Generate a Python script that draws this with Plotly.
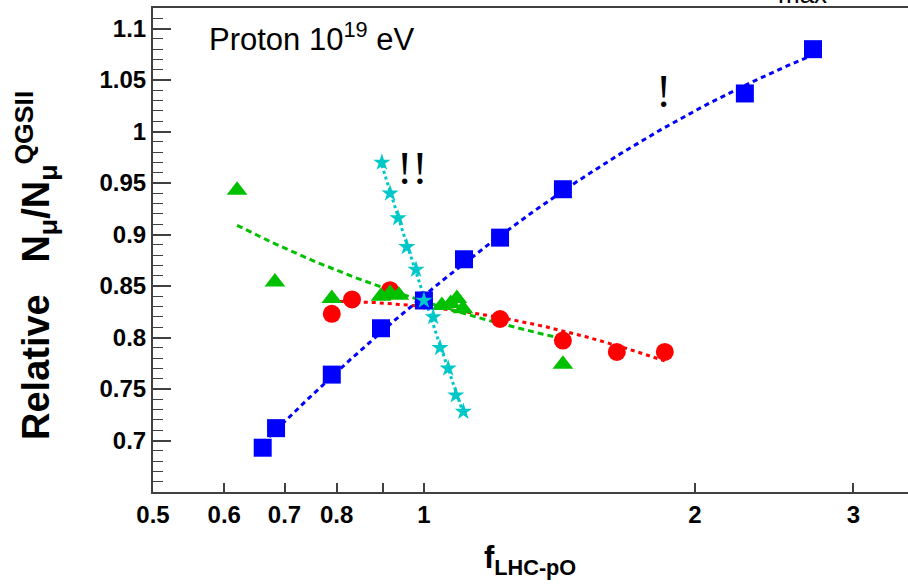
import numpy as np
import plotly.graph_objects as go

# Relative muon number vs. LHC-pO cross-section scaling factor (proton, 1e19 eV)
blue_f = [0.662, 0.685, 0.790, 0.896, 1.0, 1.108, 1.215, 1.427, 2.273, 2.706]
blue_y = [0.693, 0.712, 0.764, 0.809, 0.836, 0.876, 0.897, 0.944, 1.037, 1.080]

red_f = [0.790, 0.832, 0.917, 1.0, 1.215, 1.427, 1.638, 1.852]
red_y = [0.823, 0.837, 0.846, 0.836, 0.818, 0.797, 0.786, 0.786]

green_f = [0.620, 0.683, 0.790, 0.896, 0.917, 0.938, 1.0, 1.047, 1.071, 1.088, 1.105, 1.427]
green_y = [0.943, 0.854, 0.838, 0.840, 0.843, 0.841, 0.835, 0.831, 0.833, 0.838, 0.828, 0.774]

cyan_f = [0.898, 0.917, 0.936, 0.957, 0.980, 1.0, 1.024, 1.042, 1.064, 1.085, 1.106]
cyan_y = [0.970, 0.940, 0.916, 0.888, 0.866, 0.836, 0.820, 0.790, 0.770, 0.744, 0.728]

x_tick_vals = [0.5, 0.6, 0.7, 0.8, 0.9, 1, 2, 3]
x_tick_text = ["0.5", "0.6", "0.7", "0.8", "", "1", "2", "3"]
y_tick_vals = [0.7, 0.75, 0.8, 0.85, 0.9, 0.95, 1.0, 1.05, 1.1]
y_tick_text = ["0.7", "0.75", "0.8", "0.85", "0.9", "0.95", "1", "1.05", "1.1"]

X_RANGE = [np.log10(0.5), np.log10(0.5) + 755 / 900]
Y_RANGE = [0.65, 1.12]

BLUE = "#0000ff"
RED = "#ff0000"
GREEN = "#00c000"
CYAN = "#00c8c8"


def fit_log(f, y, deg=2, n=200):
    """Polynomial trend in log10(f)."""
    u = np.log10(np.asarray(f))
    c = np.polyfit(u, np.asarray(y), deg)
    uu = np.linspace(u.min(), u.max(), n)
    return 10 ** uu, np.polyval(c, uu)


def fit_inv(f, y, n=200):
    """Trend y = y(1) + b (1/f - 1), anchored at the f = 1 point."""
    f = np.asarray(f)
    y = np.asarray(y)
    y1 = y[np.argmin(np.abs(f - 1.0))]
    dx = 1.0 / f - 1.0
    b = np.sum(dx * (y - y1)) / np.sum(dx * dx)
    ff = np.geomspace(f.min(), f.max(), n)
    return ff, y1 + b * (1.0 / ff - 1.0)


fig = go.Figure()

series = [
    (red_f, red_y, RED, "circle", 18, "4px,4px", fit_log),
    (green_f, green_y, GREEN, "triangle-up", 18, "6px,4px", fit_inv),
    (blue_f, blue_y, BLUE, "square", 18, "5px,4px", fit_log),
    (cyan_f, cyan_y, CYAN, "star", 13, "3px,3px", fit_log),
]

# fitted trend lines first, then the markers on top
for f, y, col, sym, size, dash, fitter in series:
    fx, fy = fitter(f, y)
    fig.add_trace(go.Scatter(x=fx, y=fy, mode="lines",
                             line=dict(color=col, width=3, dash=dash),
                             hoverinfo="skip", showlegend=False))
for f, y, col, sym, size, dash, fitter in series:
    fig.add_trace(go.Scatter(x=f, y=y, mode="markers",
                             marker=dict(symbol=sym, size=size, color=col,
                                         line=dict(width=0)),
                             showlegend=False))

AXIS_COL = "#404040"
TICK_FONT = dict(family="Liberation Sans, Arial, sans-serif", size=24,
                 color="black", weight="bold")

fig.update_layout(
    width=908, height=586,
    margin=dict(l=153, r=0, t=8, b=94),
    paper_bgcolor="white", plot_bgcolor="white",
    xaxis=dict(type="log", range=X_RANGE, showgrid=False, zeroline=False,
               showline=True, linecolor=AXIS_COL, linewidth=2, mirror=True,
               ticks="inside", ticklen=9, tickwidth=1.5, tickcolor=AXIS_COL,
               tickvals=x_tick_vals, ticktext=x_tick_text, tickfont=TICK_FONT),
    xaxis2=dict(type="log", range=X_RANGE, overlaying="x", anchor="y",
                showgrid=False, zeroline=False, showline=False,
                ticks="inside", ticklen=17, tickwidth=1.5, tickcolor=AXIS_COL,
                tickvals=[1], showticklabels=False),
    yaxis=dict(range=Y_RANGE, showgrid=False, zeroline=False,
               showline=True, linecolor=AXIS_COL, linewidth=2,
               ticks="inside", ticklen=18, tickwidth=1.5, tickcolor=AXIS_COL,
               tickvals=y_tick_vals, ticktext=y_tick_text, tickfont=TICK_FONT,
               minor=dict(ticks="inside", dtick=0.01, tick0=0.65, ticklen=10,
                          tickwidth=1.2, tickcolor=AXIS_COL, showgrid=False)),
)


def px_x(p):
    return (p - 153) / 755


def px_y(p):
    return (492 - p) / 484


ann = []
ann.append(dict(text="Proton 10<sup>19</sup> eV", x=px_x(207), y=px_y(37),
                xanchor="left", yanchor="middle",
                font=dict(family="Liberation Sans, Arial, sans-serif", size=31,
                          color="black")))
ann.append(dict(text="f<sub>LHC-pO</sub>", x=px_x(530), y=px_y(560),
                xanchor="center", yanchor="middle",
                font=dict(family="Liberation Sans, Arial, sans-serif", size=31,
                          color="black", weight="bold")))
ann.append(dict(text="Relative\u00a0\u00a0\u00a0N<sub>\u03bc</sub>/N<sub>\u03bc</sub><sup>QGSII</sup>",
                x=px_x(36), y=px_y(266), textangle=-90,
                xanchor="center", yanchor="middle",
                font=dict(family="Liberation Sans, Arial, sans-serif", size=38,
                          color="black", weight="bold")))
ann.append(dict(text="!", x=px_x(663), y=px_y(92), xanchor="center", yanchor="middle",
                font=dict(family="Liberation Serif, Times New Roman, serif", size=46,
                          color="black")))
ann.append(dict(text="!!", x=px_x(412), y=px_y(168), xanchor="center", yanchor="middle",
                font=dict(family="Liberation Serif, Times New Roman, serif", size=46,
                          color="black")))
ann.append(dict(text="max", x=px_x(802), y=px_y(-6), xanchor="center", yanchor="middle",
                font=dict(family="Liberation Sans, Arial, sans-serif", size=26,
                          color="black")))
for a in ann:
    a.update(xref="paper", yref="paper", showarrow=False)
fig.update_layout(annotations=ann)

fig.write_html("out.html")
